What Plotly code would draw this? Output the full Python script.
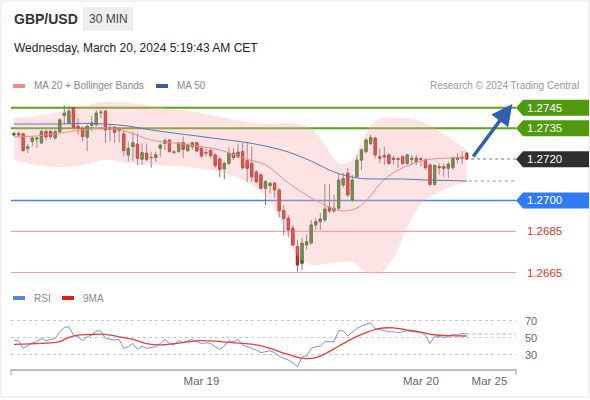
import numpy as np
import plotly.graph_objects as go

W, H = 590, 400
FONT = "Liberation Sans, Arial, sans-serif"

# ---- 30-min candles, Mar 18 03:30 -> Mar 20 05:00 CET ----
opens = [1.27318, 1.27325, 1.27323, 1.27252, 1.27286, 1.27298, 1.27279, 1.27335, 1.27335, 1.27303,
         1.27335, 1.27412, 1.27376, 1.27449, 1.27360, 1.27347, 1.27307, 1.27365, 1.27368, 1.27426,
         1.27433, 1.27352, 1.27355, 1.27345, 1.27323, 1.27221, 1.27261, 1.27273, 1.27200, 1.27229,
         1.27209, 1.27209, 1.27253, 1.27277, 1.27293, 1.27235, 1.27237, 1.27280, 1.27242, 1.27261,
         1.27280, 1.27253, 1.27232, 1.27242, 1.27221, 1.27201, 1.27153, 1.27180, 1.27229, 1.27211,
         1.27237, 1.27193, 1.27180, 1.27138, 1.27124, 1.27059, 1.27072, 1.27083, 1.27051, 1.26950,
         1.26913, 1.26865, 1.26776, 1.26695, 1.26784, 1.26794, 1.26881, 1.26897, 1.26905, 1.26968,
         1.26950, 1.26963, 1.27075, 1.27132, 1.27002, 1.27115, 1.27196, 1.27237, 1.27277, 1.27302,
         1.27212, 1.27217, 1.27221, 1.27205, 1.27203, 1.27212, 1.27180, 1.27205, 1.27188, 1.27203,
         1.27196, 1.27172, 1.27078, 1.27164, 1.27164, 1.27156, 1.27159, 1.27200, 1.27205, 1.27229]
highs = [1.27335, 1.27335, 1.27327, 1.27274, 1.27313, 1.27308, 1.27342, 1.27343, 1.27343, 1.27343,
         1.27400, 1.27462, 1.27457, 1.27452, 1.27400, 1.27360, 1.27368, 1.27409, 1.27440, 1.27440,
         1.27440, 1.27368, 1.27360, 1.27355, 1.27336, 1.27285, 1.27334, 1.27326, 1.27277, 1.27277,
         1.27237, 1.27237, 1.27277, 1.27302, 1.27298, 1.27245, 1.27282, 1.27309, 1.27277, 1.27285,
         1.27285, 1.27261, 1.27253, 1.27256, 1.27229, 1.27212, 1.27188, 1.27258, 1.27253, 1.27277,
         1.27282, 1.27285, 1.27261, 1.27148, 1.27132, 1.27099, 1.27091, 1.27091, 1.27059, 1.26978,
         1.26929, 1.26881, 1.26808, 1.26818, 1.26832, 1.26905, 1.26913, 1.26939, 1.27080, 1.27080,
         1.27027, 1.27132, 1.27133, 1.27157, 1.27123, 1.27221, 1.27253, 1.27302, 1.27318, 1.27310,
         1.27253, 1.27261, 1.27229, 1.27217, 1.27212, 1.27221, 1.27224, 1.27221, 1.27221, 1.27212,
         1.27205, 1.27180, 1.27176, 1.27180, 1.27180, 1.27188, 1.27212, 1.27229, 1.27240, 1.27237]
lows = [1.27310, 1.27308, 1.27238, 1.27230, 1.27262, 1.27255, 1.27274, 1.27290, 1.27295, 1.27295,
        1.27323, 1.27368, 1.27368, 1.27352, 1.27319, 1.27287, 1.27239, 1.27336, 1.27360, 1.27400,
        1.27279, 1.27287, 1.27279, 1.27282, 1.27214, 1.27188, 1.27192, 1.27172, 1.27172, 1.27188,
        1.27159, 1.27188, 1.27212, 1.27245, 1.27234, 1.27224, 1.27232, 1.27205, 1.27234, 1.27245,
        1.27234, 1.27208, 1.27212, 1.27205, 1.27156, 1.27112, 1.27103, 1.27172, 1.27196, 1.27205,
        1.27148, 1.27091, 1.27091, 1.27083, 1.27054, 1.26978, 1.27035, 1.27012, 1.26918, 1.26832,
        1.26824, 1.26776, 1.26654, 1.26662, 1.26760, 1.26784, 1.26857, 1.26857, 1.26895, 1.26939,
        1.26939, 1.26949, 1.27061, 1.27017, 1.26993, 1.27109, 1.27148, 1.27229, 1.27269, 1.27205,
        1.27180, 1.27172, 1.27172, 1.27172, 1.27159, 1.27172, 1.27172, 1.27172, 1.27172, 1.27164,
        1.27148, 1.27067, 1.27072, 1.27124, 1.27115, 1.27110, 1.27148, 1.27180, 1.27176, 1.27196]
closes = [1.27325, 1.27318, 1.27242, 1.27261, 1.27303, 1.27303, 1.27335, 1.27308, 1.27310, 1.27334,
          1.27391, 1.27424, 1.27433, 1.27355, 1.27352, 1.27311, 1.27360, 1.27376, 1.27424, 1.27428,
          1.27343, 1.27347, 1.27331, 1.27339, 1.27242, 1.27253, 1.27280, 1.27205, 1.27232, 1.27200,
          1.27208, 1.27221, 1.27269, 1.27290, 1.27237, 1.27234, 1.27279, 1.27248, 1.27269, 1.27280,
          1.27240, 1.27216, 1.27230, 1.27217, 1.27169, 1.27151, 1.27180, 1.27229, 1.27208, 1.27235,
          1.27159, 1.27156, 1.27115, 1.27091, 1.27059, 1.27091, 1.27083, 1.27051, 1.26950, 1.26913,
          1.26857, 1.26784, 1.26687, 1.26792, 1.26800, 1.26881, 1.26897, 1.26910, 1.26958, 1.26949,
          1.26962, 1.27099, 1.27107, 1.27027, 1.27099, 1.27196, 1.27245, 1.27293, 1.27305, 1.27221,
          1.27205, 1.27212, 1.27180, 1.27200, 1.27200, 1.27180, 1.27221, 1.27200, 1.27205, 1.27200,
          1.27159, 1.27078, 1.27169, 1.27159, 1.27156, 1.27176, 1.27205, 1.27205, 1.27209, 1.27201]

bb_upper_idx = [0, 5, 10, 15, 20, 25, 30, 35, 40, 45, 50, 55, 60, 63, 65, 68, 71, 74, 76, 78, 80, 85, 90, 95, 99]
bb_upper = [1.27400, 1.27410, 1.27429, 1.27459, 1.27478, 1.27473, 1.27459, 1.27444, 1.27429, 1.27405,
            1.27386, 1.27371, 1.27376, 1.27366, 1.27352, 1.27269, 1.27182, 1.27196, 1.27284, 1.27361,
            1.27395, 1.27400, 1.27376, 1.27308, 1.27245]
bb_lower_idx = [0, 5, 10, 15, 20, 25, 30, 35, 40, 45, 50, 55, 58, 60, 62, 65, 68, 71, 74, 77, 80, 83,
                85, 88, 90, 93, 96, 99]
bb_lower = [1.27196, 1.27172, 1.27162, 1.27172, 1.27196, 1.27182, 1.27172, 1.27167, 1.27158, 1.27138,
            1.27099, 1.27022, 1.26915, 1.26818, 1.26730, 1.26687, 1.26692, 1.26701, 1.26701, 1.26653,
            1.26648, 1.26721, 1.26818, 1.26954, 1.27002, 1.27041, 1.27070, 1.27090]
ma20_idx = [0, 5, 10, 15, 20, 25, 30, 35, 40, 45, 50, 55, 60, 65, 70, 72, 75, 78, 80, 82, 85, 90, 95, 99]
ma20 = [1.27308, 1.27313, 1.27327, 1.27342, 1.27352, 1.27332, 1.27293, 1.27279, 1.27264, 1.27245,
        1.27206, 1.27172, 1.27085, 1.27012, 1.26959, 1.26949, 1.26963, 1.27022, 1.27080, 1.27119,
        1.27158, 1.27196, 1.27206, 1.27211]
ma50_idx = [0, 5, 10, 15, 20, 25, 30, 35, 40, 45, 50, 55, 60, 65, 70, 75, 80, 85, 90, 95, 99]
ma50 = [1.27371, 1.27371, 1.27371, 1.27374, 1.27371, 1.27361, 1.27342, 1.27327, 1.27313, 1.27298,
        1.27284, 1.27264, 1.27235, 1.27191, 1.27138, 1.27109, 1.27104, 1.27104, 1.27099, 1.27097,
        1.27094]

rsi = [47, 46.5, 37.5, 40.6, 44, 45.3, 49.2, 46.5, 48, 49.2,
       57, 62, 63, 53, 51.2, 46.5, 51.2, 53, 58, 58,
       49.2, 48, 47.3, 48, 37.5, 39.4, 43.3, 36.3, 40.2, 37.5,
       38.6, 39.4, 43.3, 48, 43.3, 41.4, 46.5, 44, 46.5, 48,
       45.3, 43.3, 44, 43.3, 39.4, 36.3, 40.2, 46.5, 45.3, 48,
       41.4, 39.4, 37.5, 35.5, 32.4, 33.5, 34.7, 32.4, 28.4, 25.7,
       23.7, 20.6, 15.9, 27.6, 28.4, 37.5, 39.4, 40.2, 45.3, 45.3,
       45.3, 58.2, 58.2, 52, 57, 61, 63.7, 66, 67.6, 61,
       59.8, 59, 57, 57, 55.9, 57, 58.2, 57, 57, 55.9,
       53, 43.3, 51.2, 51.2, 50.4, 51.2, 54.3, 53, 55.1, 54.3]
rsi_ma_idx = [0, 6, 10, 12, 14, 17, 20, 23, 26, 29, 32, 35, 38, 41, 44, 47, 50, 53, 56, 59, 62, 64,
              66, 68, 71, 74, 77, 80, 83, 86, 89, 92, 95, 99]
rsi_ma = [42.2, 43.3, 45.5, 50.5, 53, 54, 54, 51, 48, 43, 41.5, 43, 45, 46.5, 46, 44.5, 43.3, 41.5,
          37.5, 32, 27, 25.5, 26.5, 31, 40, 49, 56, 61, 61.5, 59, 56.5, 53.5, 52.5, 52]

# key levels (resistances / pivot / supports)
level_values = [1.2745, 1.2735, 1.2720, 1.2700, 1.2685, 1.2665]
level_styles = ["green", "green", "pivot", "blue", "red", "red"]

tick_pos = [41, 89, 104]
tick_text = ["Mar 19", "Mar 20", "Mar 25"]


def px(x):
    return x / W


def py(y):
    return 1 - y / H


idx = list(range(len(closes)))
x_range = [-0.66, 109.8]
x_dom = [px(11), px(516)]

body_hi = np.maximum(opens, closes)
body_lo = np.minimum(opens, closes)

fig = go.Figure()

# Bollinger band
fig.add_trace(go.Scatter(x=bb_upper_idx, y=bb_upper, mode="lines", line=dict(width=0, shape="spline"),
                         hoverinfo="skip", showlegend=False))
fig.add_trace(go.Scatter(x=bb_lower_idx, y=bb_lower, mode="lines", line=dict(width=0, shape="spline"),
                         fill="tonexty", fillcolor="rgba(248,170,170,0.33)", hoverinfo="skip",
                         showlegend=False))
fig.add_trace(go.Scatter(x=ma20_idx, y=ma20, mode="lines",
                         line=dict(color="#f08c8c", width=1, shape="spline"), showlegend=False))
fig.add_trace(go.Scatter(x=ma50_idx, y=ma50, mode="lines",
                         line=dict(color="#5a78b4", width=1, shape="spline"), showlegend=False))

# wicks (grey) then coloured bodies on top
fig.add_trace(go.Candlestick(
    x=idx, open=opens, high=highs, low=lows, close=closes,
    increasing=dict(line=dict(color="#7a7a7a", width=1), fillcolor="#7a7a7a"),
    decreasing=dict(line=dict(color="#7a7a7a", width=1), fillcolor="#7a7a7a"),
    showlegend=False, hoverinfo="skip"))
fig.add_trace(go.Candlestick(
    x=idx, open=opens, high=body_hi, low=body_lo, close=closes,
    increasing=dict(line=dict(color="#2a6e22", width=1), fillcolor="#37882c"),
    decreasing=dict(line=dict(color="#b5201c", width=1), fillcolor="#d8302a"),
    showlegend=False))

# dotted extensions to the axis end
last = idx[-1]
fig.add_trace(go.Scatter(x=[last + 1, x_range[1]], y=[closes[-1]] * 2, mode="lines",
                         line=dict(color="#777", width=1, dash="dot"), showlegend=False))
fig.add_trace(go.Scatter(x=[last + 0.5, x_range[1]], y=[ma50[-1]] * 2, mode="lines",
                         line=dict(color="#999", width=1, dash="dot"), showlegend=False))

# RSI panel
fig.add_trace(go.Scatter(x=idx, y=rsi, mode="lines", line=dict(color="#7394dc", width=1),
                         xaxis="x2", yaxis="y2", showlegend=False))
fig.add_trace(go.Scatter(x=[last, x_range[1]], y=[rsi[-1]] * 2, mode="lines",
                         line=dict(color="#9fb4e6", width=1, dash="dot"),
                         xaxis="x2", yaxis="y2", showlegend=False))
fig.add_trace(go.Scatter(x=rsi_ma_idx, y=rsi_ma, mode="lines",
                         line=dict(color="#e2403a", width=1.3, shape="spline"),
                         xaxis="x2", yaxis="y2", showlegend=False))

shapes = []
annotations = []

line_cols = {"green": ("#5aa21c", 2), "blue": ("#4a84e6", 1.5), "red": ("#f3a3a3", 1.2)}
box_cols = {"green": "#4f9a0f", "blue": "#2f7cf0", "pivot": "#2f2f2f"}
for v, st in zip(level_values, level_styles):
    if st in line_cols:
        c, w = line_cols[st]
        shapes.append(dict(type="line", xref="paper", yref="y", x0=x_dom[0], x1=x_dom[1], y0=v, y1=v,
                           line=dict(color=c, width=w), layer="below"))
    if st in box_cols:
        shapes.append(dict(type="path", xref="paper", yref="y", xsizemode="pixel", ysizemode="pixel",
                           xanchor=x_dom[1], yanchor=v, path="M0,0 L7,8 L73,8 L73,-8 L7,-8 Z",
                           fillcolor=box_cols[st], line=dict(width=0)))
        tc = "white"
    else:
        tc = "#d9362b"
    annotations.append(dict(x=px(525), y=v, xref="paper", yref="y", xanchor="left", yanchor="middle",
                            text=f"{v:.4f}", showarrow=False, font=dict(family=FONT, size=11.5, color=tc)))

# target arrow from last close to the first resistance
annotations.append(dict(x=109, y=level_values[0] + 0.00018, xref="x", yref="y",
                        ax=last + 1.2, ay=closes[-1] + 0.00005, axref="x", ayref="y",
                        showarrow=True, arrowhead=2, arrowsize=1.2, arrowwidth=3.5,
                        arrowcolor="#2f62a8", text=""))

# header
shapes.append(dict(type="rect", xref="paper", yref="paper", x0=px(83), x1=px(133), y0=py(31), y1=py(7),
                   fillcolor="#eeeeee", line=dict(width=0)))
annotations += [
    dict(x=px(12), y=py(19), xref="paper", yref="paper", xanchor="left", yanchor="middle",
         text="<b>GBP/USD</b>", showarrow=False, font=dict(family=FONT, size=14, color="#333")),
    dict(x=px(108), y=py(19), xref="paper", yref="paper", xanchor="center", yanchor="middle",
         text="30 MIN", showarrow=False, font=dict(family=FONT, size=12, color="#444")),
    dict(x=px(12), y=py(48), xref="paper", yref="paper", xanchor="left", yanchor="middle",
         text="Wednesday, March 20, 2024 5:19:43 AM CET", showarrow=False,
         font=dict(family=FONT, size=12, color="#222")),
    dict(x=px(581), y=py(86), xref="paper", yref="paper", xanchor="right", yanchor="middle",
         text="Research © 2024 Trading Central", showarrow=False,
         font=dict(family=FONT, size=10, color="#999")),
]

# legends
legend_items = [(13, 86, "#f28b8b", "MA 20 + Bollinger Bands"), (156, 86, "#3c5a9c", "MA 50"),
                (13, 298, "#5b86d8", "RSI"), (62, 298, "#e02020", "9MA")]
for lx, ly, c, t in legend_items:
    shapes.append(dict(type="rect", xref="paper", yref="paper", x0=px(lx), x1=px(lx + 12),
                       y0=py(ly + 2), y1=py(ly - 2), fillcolor=c, line=dict(width=0)))
    annotations.append(dict(x=px(lx + 19), y=py(ly), xref="paper", yref="paper", xanchor="left",
                            yanchor="middle", text=t, showarrow=False,
                            font=dict(family=FONT, size=10, color="#888")))

# end ticks of the time axis and the card border
for ex in (11, 516):
    shapes.append(dict(type="line", xref="paper", yref="paper", x0=px(ex), x1=px(ex), y0=py(369),
                       y1=py(375), line=dict(color="#bbb", width=1.5)))
shapes.append(dict(type="rect", xref="paper", yref="paper", x0=px(1), x1=px(589), y0=py(397), y1=py(1),
                   line=dict(color="#e6e6e6", width=1), fillcolor="rgba(0,0,0,0)", layer="below"))

fig.update_layout(
    width=W, height=H,
    margin=dict(l=0, r=0, t=0, b=0),
    paper_bgcolor="white", plot_bgcolor="white",
    showlegend=False,
    font=dict(family=FONT),
    shapes=shapes, annotations=annotations,
    xaxis=dict(domain=x_dom, range=x_range, visible=False, rangeslider=dict(visible=False), anchor="y"),
    yaxis=dict(domain=[py(282), py(96)], range=[1.26604, 1.27507], visible=False),
    xaxis2=dict(domain=x_dom, range=x_range, anchor="y2", showline=True, linecolor="#bbb", linewidth=1.5,
                showgrid=False, zeroline=False, tickvals=tick_pos, ticktext=tick_text, ticks="",
                tickfont=dict(family=FONT, size=11.5, color="#666"), rangeslider=dict(visible=False)),
    yaxis2=dict(domain=[py(369), py(310)], range=[13.2, 82.6], anchor="x2", side="right",
                tickvals=[30, 50, 70], showgrid=True, gridcolor="#c8c8c8", griddash="dot",
                zeroline=False, ticks="", ticklabelstandoff=8,
                tickfont=dict(family=FONT, size=11, color="#666")),
)

fig.write_html("out.html", config={"displayModeBar": False},
               post_script="document.body.style.margin='0';")
